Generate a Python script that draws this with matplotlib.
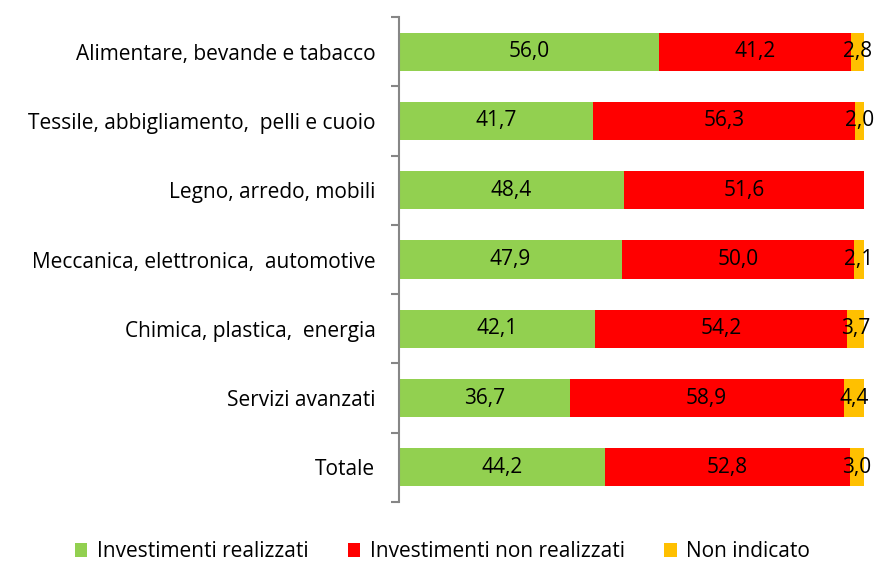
import numpy as np
import matplotlib.pyplot as plt

categories = ["Alimentare, bevande e tabacco",
              "Tessile, abbigliamento,  pelli e cuoio",
              "Legno, arredo, mobili",
              "Meccanica, elettronica,  automotive",
              "Chimica, plastica,  energia",
              "Servizi avanzati",
              "Totale"]
realizzati = [56.0, 41.7, 48.4, 47.9, 42.1, 36.7, 44.2]
non_realizzati = [41.2, 56.3, 51.6, 50.0, 54.2, 58.9, 52.8]
non_indicato = [2.8, 2.0, 0.0, 2.1, 3.7, 4.4, 3.0]

series = [("Investimenti realizzati", realizzati, "#92D050"),
          ("Investimenti non realizzati", non_realizzati, "#FF0000"),
          ("Non indicato", non_indicato, "#FFC000")]

plt.rcParams['font.family'] = ['Open Sans', 'DejaVu Sans']
fs = 15

fig = plt.figure(figsize=(8.76, 5.63), dpi=100)
ax = fig.add_axes([0.4555, 0.1083, 0.5308, 0.8615])

y = np.arange(len(categories))
left = np.zeros(len(categories))
for name, vals, col in series:
    vals = np.array(vals)
    ax.barh(y, vals, left=left, height=0.55, color=col, label=name)
    for yi, l, v in zip(y, left, vals):
        if v > 0:
            ax.text(l + v / 2, yi, f"{v:.1f}".replace(".", ","),
                    ha="center", va="center", fontsize=fs, color="black")
    left += vals

ax.set_xlim(0, 100)
ax.set_ylim(len(categories) - 0.5, -0.5)
ax.set_yticks(y)
ax.set_yticklabels(categories, fontsize=fs)
ax.set_yticks(np.arange(len(categories) + 1) - 0.5, minor=True)
ax.tick_params(axis="y", which="major", length=0, pad=17)
ax.tick_params(axis="y", which="minor", length=6, width=1.5, color="#868686")
ax.set_xticks([])
for s in ["top", "right", "bottom"]:
    ax.spines[s].set_visible(False)
ax.spines["left"].set_color("#868686")
ax.spines["left"].set_linewidth(1.5)

ax.legend(loc="center", bbox_to_anchor=(0.505, 0.02), bbox_transform=fig.transFigure,
          ncol=3, frameon=False, fontsize=fs, handlelength=0.6, handleheight=0.6,
          handletextpad=0.45, columnspacing=1.9)

fig.savefig("out.png", dpi=100)
